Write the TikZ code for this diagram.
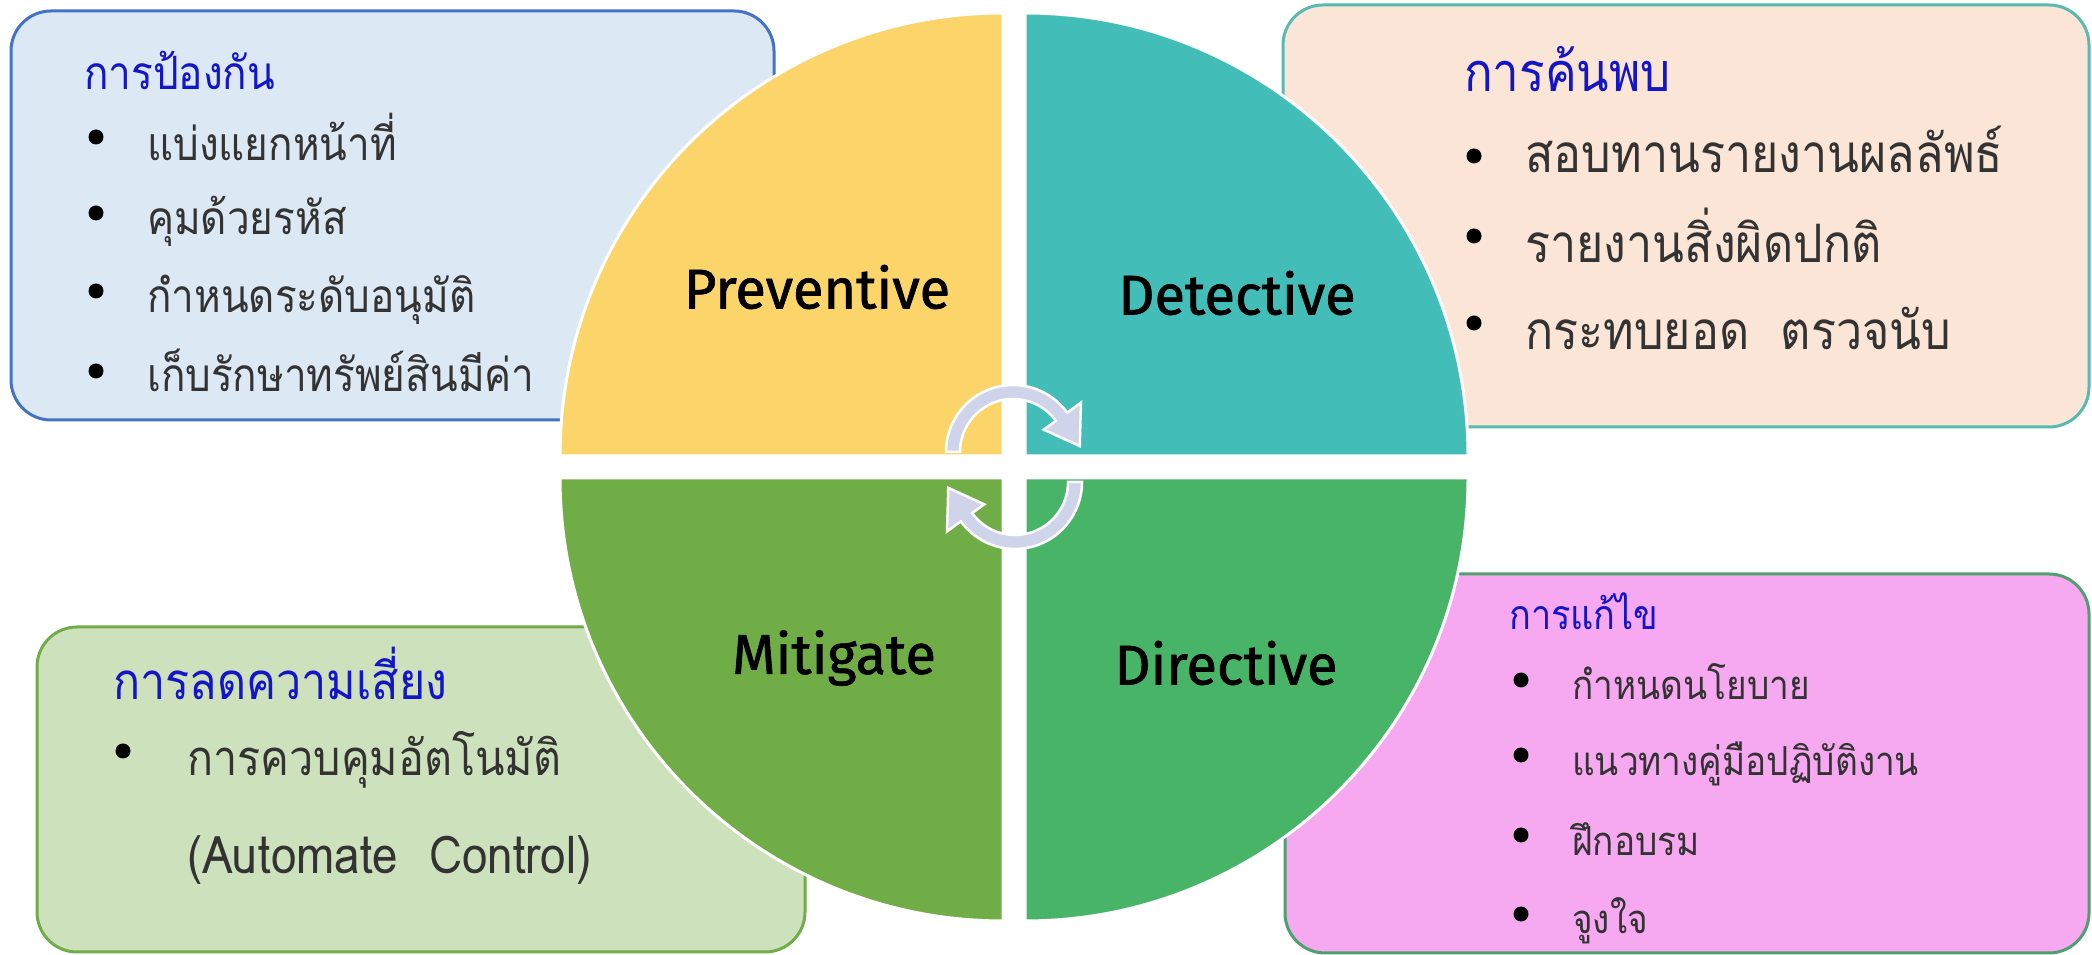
\documentclass[tikz,border=0pt]{standalone}
\usepackage{fontspec}
\usepackage{xcolor}
\usepackage{tikz}
\usetikzlibrary{positioning}
\newfontfamily\thaifont[Script=Thai,FakeStretch=0.88]{Loma}
\newfontfamily\quadfont[FakeBold=1.2]{Fira Sans}
\definecolor{prevfill}{RGB}{252,213,106}
\definecolor{detfill}{RGB}{66,189,183}
\definecolor{mitfill}{RGB}{112,173,71}
\definecolor{dirfill}{RGB}{72,180,104}
\definecolor{bluebox}{RGB}{220,232,244}
\definecolor{blueline}{RGB}{68,114,196}
\definecolor{peachbox}{RGB}{250,229,214}
\definecolor{peachline}{RGB}{88,186,176}
\definecolor{greenbox}{RGB}{205,225,188}
\definecolor{greenline}{RGB}{112,173,71}
\definecolor{pinkbox}{RGB}{246,168,240}
\definecolor{pinkline}{RGB}{78,160,112}
\definecolor{headblue}{RGB}{20,20,200}
\definecolor{cyclefill}{RGB}{208,212,234}

\begin{document}
\begin{tikzpicture}[
    x=1pt,y=1pt,
    infobox/.style={rounded corners=40pt,line width=3pt},
    quarter/.style={draw=white,line width=3pt},
    quadlabel/.style={font=\quadfont\fontsize{56}{60}\selectfont,inner sep=0pt},
    heading/.style={anchor=base west,inner sep=0pt,text=headblue,
        font=\thaifont\fontsize{#1}{#1}\selectfont},
    item/.style={anchor=base west,inner sep=0pt,text=black!80,
        font=\thaifont\fontsize{#1}{#1}\selectfont},
    dot/.style={circle,fill=black,inner sep=0pt,minimum size=15pt},
    cyclearrow/.style={fill=cyclefill,draw=white,line width=2.5pt}
]
\useasboundingbox (0,0) rectangle (2092,955);

% side boxes
\draw[infobox,draw=blueline,fill=bluebox] (11,535) rectangle (774,944);
\draw[infobox,draw=peachline,fill=peachbox] (1283,528) rectangle (2089,950);
\draw[infobox,draw=greenline,fill=greenbox] (37,3) rectangle (805,328);
\draw[infobox,draw=pinkline,fill=pinkbox] (1285,2) rectangle (2089,381);

% the four quarters
\draw[quarter,fill=prevfill] (1003,499) -- (560,499) arc[start angle=180,end angle=90,radius=443] -- cycle;
\draw[quarter,fill=detfill] (1025,499) -- (1025,942) arc[start angle=90,end angle=0,radius=443] -- cycle;
\draw[quarter,fill=mitfill] (1003,477) -- (1003,34) arc[start angle=270,end angle=180,radius=443] -- cycle;
\draw[quarter,fill=dirfill] (1025,477) -- (1468,477) arc[start angle=0,end angle=-90,radius=443] -- cycle;

\node[quadlabel] (prev) at (817,668) {Preventive};
\node[quadlabel] (detect) at (1237,662) {Detective};
\node[quadlabel] (mitig) at (834,297) {Mitigate};
\node[quadlabel] (direct) at (1226,292) {Directive};

% cycle arrows in the middle
\foreach \r in {0,180}
  \draw[cyclearrow,rotate around={\r:(1014,488)},shift={(1013,503)}]
    (180:53) -- (180:67) arc[start angle=180,end angle=36,radius=67]
    -- (36:84) -- (5:67) -- (36:38) -- (36:53)
    arc[start angle=36,end angle=180,radius=53] -- cycle;

% preventive box
\node[heading=46] (prevhead) at (84,865) {การป้องกัน};
\node[dot] (pb1) at (96,818) {};
\node[dot] (pb2) at (96,742) {};
\node[dot] (pb3) at (96,664) {};
\node[dot] (pb4) at (96,584) {};
\node[item=46] (pi1) at (147,794) {แบ่งแยกหน้าที่};
\node[item=46] (pi2) at (147,720) {คุมด้วยรหัส};
\node[item=46] (pi3) at (147,642) {กำหนดระดับอนุมัติ};
\node[item=46] (pi4) at (147,563) {เก็บรักษาทรัพย์สินมีค่า};

% detective box
\node[heading=54] (dethead) at (1464,863) {การค้นพบ};
\node[dot] (db1) at (1474,799) {};
\node[dot] (db2) at (1474,719) {};
\node[dot] (db3) at (1474,632) {};
\node[item=53] (di1) at (1525,782) {สอบทานรายงานผลลัพธ์};
\node[item=53] (di2) at (1525,692) {รายงานสิ่งผิดปกติ};
\node[item=53] (di3) at (1525,605) {กระทบยอด\ \ ตรวจนับ};

% mitigate box
\node[heading=51] (mithead) at (113,255) {การลดความเสี่ยง};
\node[dot] (mb1) at (123,204) {};
\node[item=49] (mi1) at (187,179) {การควบคุมอัตโนมัติ};
\node[item=52] (mi2) at (187,81) {(Automate\ \ Control)};

% directive box
\node[heading=41] (dirhead) at (1509,325) {การแก้ไข};
\node[dot] (rb1) at (1521,275) {};
\node[dot] (rb2) at (1521,200) {};
\node[dot] (rb3) at (1521,120) {};
\node[dot] (rb4) at (1521,41) {};
\node[item=40] (ri1) at (1572,255) {กำหนดนโยบาย};
\node[item=40] (ri2) at (1572,179) {แนวทางคู่มือปฏิบัติงาน};
\node[item=40] (ri3) at (1572,99) {ฝึกอบรม};
\node[item=40] (ri4) at (1572,21) {จูงใจ};
\end{tikzpicture}
\end{document}
